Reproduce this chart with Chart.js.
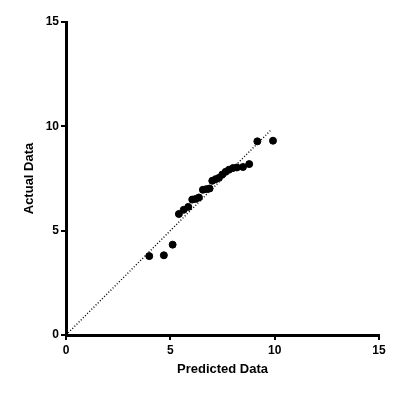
<!DOCTYPE html>
<html>
<head>
<meta charset="utf-8">
<script src="https://cdn.jsdelivr.net/npm/chart.js@4.4.0/dist/chart.umd.min.js"></script>
<style>
  html, body { margin: 0; padding: 0; background: #fff; }
  #wrap { width: 420px; height: 398px; }
</style>
</head>
<body>
<div id="wrap"><canvas id="scatterChart" width="420" height="398"></canvas></div>
<script>
// values
const predicted = [3.99, 4.69, 5.11, 5.41, 5.64, 5.86, 6.05, 6.21, 6.37, 6.56, 6.72, 6.88,
    7.01, 7.17, 7.33, 7.49, 7.65, 7.81, 8.0, 8.19, 8.48, 8.78, 9.17, 9.92];
const actual = [3.78, 3.82, 4.33, 5.80, 6.0, 6.14, 6.49, 6.52, 6.59, 6.96, 6.99, 7.02,
    7.39, 7.47, 7.53, 7.69, 7.82, 7.92, 8.0, 8.03, 8.05, 8.19, 9.28, 9.31];
const identityLine = [0, 9.85];
const axisTicks = [0, 5, 10, 15];

document.addEventListener('DOMContentLoaded', function () {
    const ctx = document.getElementById('scatterChart').getContext('2d');
    const tickFont = { family: 'Liberation Sans', size: 12, weight: 'bold' };

    const scatterChart = new Chart(ctx, {
        type: 'scatter',
        data: {
            datasets: [{
                label: 'Data',
                data: predicted.map((p, i) => ({ x: p, y: actual[i] })),
                backgroundColor: '#000',
                borderColor: '#000',
                pointRadius: 3.5,
                pointHoverRadius: 3.5
            }, {
                type: 'line',
                label: 'Identity',
                data: identityLine.map(v => ({ x: v, y: v })),
                borderColor: '#000',
                borderWidth: 1.4,
                borderDash: [1, 2],
                pointRadius: 0,
                fill: false
            }]
        },
        options: {
            responsive: false,
            animation: false,
            layout: { padding: { top: 22, right: 41, left: 22, bottom: 21 } },
            plugins: {
                legend: { display: false },
                tooltip: { enabled: false }
            },
            scales: {
                x: {
                    type: 'linear',
                    min: 0,
                    max: 15,
                    afterBuildTicks: function (scale) {
                        scale.ticks = axisTicks.map(v => ({ value: v }));
                    },
                    afterFit: function (scale) { scale.height = 42; },
                    grid: { drawOnChartArea: false, drawTicks: true, tickLength: 5, color: '#000', lineWidth: 2 },
                    border: { color: '#000', width: 3 },
                    ticks: { color: '#000', font: tickFont, padding: 3, maxRotation: 0 },
                    title: {
                        display: true,
                        text: 'Predicted Data',
                        color: '#000',
                        font: { family: 'Liberation Sans', size: 13, weight: 'bold' },
                        padding: { top: 6, bottom: 0 }
                    }
                },
                y: {
                    type: 'linear',
                    min: 0,
                    max: 15,
                    afterBuildTicks: function (scale) {
                        scale.ticks = axisTicks.map(v => ({ value: v }));
                    },
                    afterFit: function (scale) { scale.width = 44; },
                    grid: { drawOnChartArea: false, drawTicks: true, tickLength: 5, color: '#000', lineWidth: 2 },
                    border: { color: '#000', width: 3 },
                    ticks: { color: '#000', font: tickFont, padding: 2 },
                    title: {
                        display: true,
                        text: 'Actual Data',
                        color: '#000',
                        font: { family: 'Liberation Sans', size: 13, weight: 'bold' },
                        padding: { top: 0, bottom: 0 }
                    }
                }
            }
        }
    });
});
</script>
</body>
</html>
